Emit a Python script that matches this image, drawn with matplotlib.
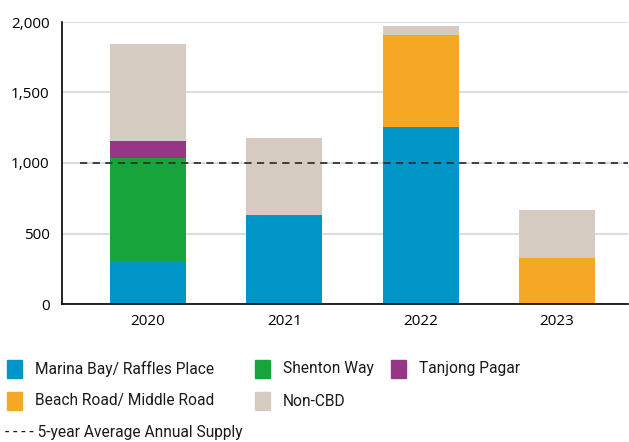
import numpy as np
import matplotlib.pyplot as plt
from matplotlib.patches import Rectangle

plt.rcParams['font.family'] = ['Open Sans', 'DejaVu Sans']
leg_font = ['Roboto', 'DejaVu Sans']

# data (sq ft '000)
years = ['2020', '2021', '2022', '2023']
marina = [300, 630, 1255, 0]
shenton = [735, 0, 0, 0]
tanjong = [120, 0, 0, 0]
beach = [0, 0, 650, 325]
noncbd = [690, 545, 65, 340]
avg_supply = 1000

names = ['Marina Bay/ Raffles Place', 'Shenton Way', 'Tanjong Pagar',
         'Beach Road/ Middle Road', 'Non-CBD']
colors = ['#0096c8', '#17a43a', '#953786', '#f5a823', '#d5cbc1']
series = [marina, shenton, tanjong, beach, noncbd]

fig = plt.figure(figsize=(6.29, 4.42), dpi=100)
ax = fig.add_axes([62/629, (442-304)/442, (628-62)/629, (304-22)/442])

x = np.arange(len(years))
bottom = np.zeros(len(years))
for vals, c in zip(series, colors):
    ax.bar(x, vals, 0.56, bottom=bottom, color=c, zorder=2)
    bottom += np.array(vals)

ax.set_xlim(-0.63, 3.52)
ax.set_ylim(0, 2000)
ax.set_yticks([0, 500, 1000, 1500, 2000])
ax.set_yticklabels(['0', '500', '1,000', '1,500', '2,000'])
ax.set_xticks(x)
ax.set_xticklabels(years)
ax.yaxis.grid(True, color='#dddddd', linewidth=1.5, zorder=0)
ax.set_axisbelow(True)
ax.hlines(avg_supply, -0.5, 3.52, colors='#333333', linestyles=(0, (4, 3)),
          linewidth=1.3, zorder=3)

for s in ['top', 'right']:
    ax.spines[s].set_visible(False)
ax.spines['left'].set_linewidth(1.2)
ax.spines['bottom'].set_linewidth(1.2)
ax.tick_params(length=0, labelsize=11)
ax.tick_params(axis='y', pad=9)
ax.tick_params(axis='x', pad=7)

# legend, laid out by hand
leg_pos = [(7, 360), (255, 360), (391, 360), (7, 392), (255, 392)]
for (px, py), name, c in zip(leg_pos, names, colors):
    fig.patches.append(Rectangle((px/629, 1 - (py+18)/442), 15/629, 18/442,
                                 transform=fig.transFigure, color=c))
    fig.text((px+28)/629, 1 - (py+9)/442, name, fontsize=11.2,
             va='center', ha='left', family=leg_font, color='#1a1a1a')

fig.text(5/629, 1 - 437/442, '- - - - 5-year Average Annual Supply',
         fontsize=11.2, va='baseline', ha='left', family=leg_font,
         color='#1a1a1a')

fig.savefig('out.png', dpi=100)
